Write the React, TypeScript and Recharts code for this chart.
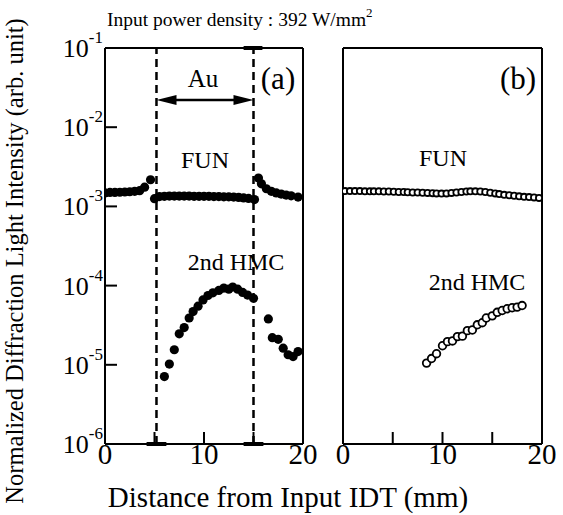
import { ScatterChart, Scatter, XAxis, YAxis, ReferenceLine } from "recharts"

// panel (a): filled symbols
const aFunX = [0, 0.5, 1, 1.5, 2, 2.5, 3, 3.5, 4, 4.6, 5.0, 5.5, 6.0, 6.5, 7.0, 7.5, 8.0, 8.5, 9.0, 9.5, 10.0, 10.5, 11.0, 11.5, 12.0, 12.5, 13.0, 13.5, 14.0, 14.5, 15.1, 15.5, 15.8, 16.3, 16.8, 17.3, 17.8, 18.3, 18.8, 19.5]
const aFunY = [1.48e-3, 1.5e-3, 1.5e-3, 1.51e-3, 1.52e-3, 1.53e-3, 1.55e-3, 1.58e-3, 1.75e-3, 2.17e-3, 1.25e-3, 1.33e-3, 1.34e-3, 1.35e-3, 1.35e-3, 1.35e-3, 1.35e-3, 1.35e-3, 1.34e-3, 1.34e-3, 1.34e-3, 1.34e-3, 1.33e-3, 1.33e-3, 1.32e-3, 1.32e-3, 1.31e-3, 1.3e-3, 1.28e-3, 1.26e-3, 1.22e-3, 2.28e-3, 1.93e-3, 1.67e-3, 1.55e-3, 1.48e-3, 1.43e-3, 1.39e-3, 1.36e-3, 1.31e-3]
const aHmcX = [6.0, 6.5, 7.0, 7.5, 8.0, 8.5, 8.9, 9.4, 9.9, 10.4, 10.9, 11.5, 12.0, 12.5, 12.9, 13.4, 13.9, 14.4, 15.0, 16.5, 16.9, 17.5, 18.0, 18.5, 19.0, 19.5]
const aHmcY = [7.1e-6, 1.02e-5, 1.55e-5, 2.46e-5, 2.95e-5, 3.9e-5, 4.7e-5, 5.5e-5, 6.6e-5, 7.5e-5, 8.1e-5, 8.7e-5, 9.3e-5, 9.0e-5, 9.6e-5, 9.0e-5, 8.2e-5, 7.6e-5, 6.9e-5, 3.8e-5, 2.2e-5, 2.1e-5, 1.62e-5, 1.34e-5, 1.27e-5, 1.47e-5]

// panel (b): open symbols
const bFunX = [0.2, 0.7, 1.2, 1.7, 2.2, 2.7, 3.1, 3.6, 4.1, 4.6, 5.1, 5.6, 6.1, 6.5, 7.0, 7.5, 8.0, 8.5, 9.0, 9.4, 9.9, 10.4, 10.9, 11.4, 11.9, 12.4, 12.8, 13.3, 13.8, 14.3, 14.8, 15.3, 15.7, 16.2, 16.7, 17.2, 17.7, 18.2, 18.7, 19.2, 19.7]
const bFunY = [1.56e-3, 1.56e-3, 1.56e-3, 1.56e-3, 1.55e-3, 1.55e-3, 1.55e-3, 1.55e-3, 1.54e-3, 1.54e-3, 1.53e-3, 1.52e-3, 1.52e-3, 1.51e-3, 1.5e-3, 1.5e-3, 1.49e-3, 1.48e-3, 1.47e-3, 1.46e-3, 1.45e-3, 1.46e-3, 1.48e-3, 1.5e-3, 1.52e-3, 1.54e-3, 1.55e-3, 1.55e-3, 1.54e-3, 1.52e-3, 1.49e-3, 1.46e-3, 1.43e-3, 1.4e-3, 1.38e-3, 1.36e-3, 1.34e-3, 1.32e-3, 1.31e-3, 1.3e-3, 1.28e-3]
const bHmcX = [8.4, 8.9, 9.4, 10.0, 10.5, 11.0, 11.5, 12.0, 12.5, 13.0, 13.5, 14.0, 14.4, 15.0, 15.5, 16.0, 16.5, 17.0, 17.5, 18.0]
const bHmcY = [1.05e-5, 1.2e-5, 1.38e-5, 1.74e-5, 1.96e-5, 2.0e-5, 2.27e-5, 2.3e-5, 2.7e-5, 2.75e-5, 3.2e-5, 3.4e-5, 3.9e-5, 4.15e-5, 4.6e-5, 4.85e-5, 5.1e-5, 5.25e-5, 5.35e-5, 5.6e-5]

const xTicks = [0, 5, 10, 15, 20]
const xTickLabels: Record<number, string> = { 0: "0", 10: "10", 20: "20" }
const yTicks = [1e-6, 1e-5, 1e-4, 1e-3, 1e-2, 1e-1]
const auEdges = [5.2, 15.0]
const auArrowY = 2.2e-2
const yMin = 1e-6
const yMax = 1e-1

const FONT = "Liberation Serif"
const W = 563
const H = 515

const zip = (xs: number[], ys: number[]) => xs.map((x, i) => ({ x, y: ys[i] }))

const PowTick = (props: any) => {
  const { x, y, payload } = props
  const exp = Math.round(Math.log10(payload.value))
  return (
    <text x={x} y={y} textAnchor="end" style={{ fontFamily: FONT }} fontSize={26} fill="#000">
      <tspan dy={9}>10</tspan>
      <tspan fontSize={17} dy={-14}>{exp}</tspan>
    </text>
  )
}

const XTick = (props: any) => {
  const { x, y, payload } = props
  return (
    <text x={x} y={y} textAnchor="middle" style={{ fontFamily: FONT }} fontSize={29} fill="#000" dy={20}>
      {xTickLabels[payload.value] ?? ""}
    </text>
  )
}

const Filled = (p: any) => <circle cx={p.cx} cy={p.cy} r={4.6} fill="#000" />
const OpenSmall = (p: any) => <circle cx={p.cx} cy={p.cy} r={3.1} fill="#fff" stroke="#000" strokeWidth={1.8} />
const OpenBig = (p: any) => <circle cx={p.cx} cy={p.cy} r={3.8} fill="#fff" stroke="#000" strokeWidth={1.8} />

const Arrow = (p: any) => {
  const { x1, y1, x2, y2 } = p
  const a = Math.min(x1, x2)
  const b = Math.max(x1, x2)
  const y = (y1 + y2) / 2
  return (
    <g>
      <line x1={a + 10} y1={y} x2={b - 10} y2={y} stroke="#000" strokeWidth={2.5} />
      <polygon points={`${a},${y} ${a + 20},${y - 5} ${a + 20},${y + 5}`} fill="#000" />
      <polygon points={`${b},${y} ${b - 20},${y - 5} ${b - 20},${y + 5}`} fill="#000" />
    </g>
  )
}

function Frame(props: { withLabels: boolean }) {
  const axisLine = { stroke: "#000", strokeWidth: 2 }
  return [
    <XAxis
      key="xb"
      xAxisId="b"
      dataKey="x"
      type="number"
      domain={[0, 20]}
      ticks={xTicks}
      tickSize={-12}
      tickMargin={12}
      height={30}
      axisLine={axisLine}
      tickLine={axisLine}
      tick={<XTick />}
      interval={0}
      allowDataOverflow
    />,
    <XAxis
      key="xt"
      xAxisId="t"
      orientation="top"
      type="number"
      domain={[0, 20]}
      ticks={xTicks}
      tickSize={-12}
      height={1}
      axisLine={axisLine}
      tickLine={axisLine}
      tick={false}
    />,
    <YAxis
      key="yl"
      yAxisId="l"
      dataKey="y"
      type="number"
      scale="log"
      domain={[yMin, yMax]}
      ticks={yTicks}
      tickSize={-12}
      tickMargin={14}
      width={props.withLabels ? 60 : 1}
      axisLine={axisLine}
      tickLine={axisLine}
      tick={props.withLabels ? <PowTick /> : false}
      interval={0}
      allowDataOverflow
    />,
    <YAxis
      key="yr"
      yAxisId="r"
      orientation="right"
      type="number"
      scale="log"
      domain={[yMin, yMax]}
      ticks={yTicks}
      tickSize={-12}
      width={1}
      axisLine={axisLine}
      tickLine={axisLine}
      tick={false}
    />,
  ]
}

export default function App() {
  const aFun = zip(aFunX, aFunY)
  const aHmc = zip(aHmcX, aHmcY)
  const bFun = zip(bFunX, bFunY)
  const bHmc = zip(bHmcX, bHmcY)

  return (
    <div style={{ position: "absolute", left: 0, top: 0, width: W, height: H, background: "#fff", fontFamily: FONT }}>
      {/* panel (a) */}
      <div style={{ position: "absolute", left: 0, top: 0 }}>
        <ScatterChart width={320} height={H} margin={{ top: 47, right: 16, bottom: 41, left: 45 }}>
          {Frame({ withLabels: true })}
          {auEdges.map((x) => (
            <ReferenceLine key={x} x={x} xAxisId="b" yAxisId="l" stroke="#000" strokeWidth={2.5} strokeDasharray="8 5" />
          ))}
          {auEdges.map((x) => (
            <ReferenceLine
              key={`bot${x}`}
              xAxisId="b"
              yAxisId="l"
              segment={[{ x: x - 1, y: yMin }, { x: x + 1, y: yMin }]}
              stroke="#000"
              strokeWidth={4}
            />
          ))}
          <ReferenceLine
            xAxisId="b"
            yAxisId="l"
            segment={[{ x: auEdges[1] - 1, y: yMax }, { x: auEdges[1] + 0.9, y: yMax }]}
            stroke="#000"
            strokeWidth={4}
          />
          <ReferenceLine
            xAxisId="b"
            yAxisId="l"
            segment={[{ x: auEdges[0], y: auArrowY }, { x: auEdges[1], y: auArrowY }]}
            shape={<Arrow />}
          />
          <Scatter data={aFun} xAxisId="b" yAxisId="l" shape={<Filled />} isAnimationActive={false} />
          <Scatter data={aHmc} xAxisId="b" yAxisId="l" shape={<Filled />} isAnimationActive={false} />
        </ScatterChart>
      </div>

      {/* panel (b) */}
      <div style={{ position: "absolute", left: 320, top: 0 }}>
        <ScatterChart width={243} height={H} margin={{ top: 47, right: 20, bottom: 41, left: 22 }}>
          {Frame({ withLabels: false })}
          <Scatter data={bFun} xAxisId="b" yAxisId="l" shape={<OpenSmall />} isAnimationActive={false} />
          <Scatter data={bHmc} xAxisId="b" yAxisId="l" shape={<OpenBig />} isAnimationActive={false} />
        </ScatterChart>
      </div>

      {/* annotations */}
      <svg width={W} height={H} style={{ position: "absolute", left: 0, top: 0, pointerEvents: "none", fontFamily: FONT }}>
        <g fill="#000">
          <text x={107} y={26} fontSize={19.5}>
            Input power density : 392 W/mm<tspan fontSize={13} dy={-9}>2</tspan>
          </text>
          <text x={203} y={87} fontSize={25} textAnchor="middle">Au</text>
          <text x={278} y={89} fontSize={31} textAnchor="middle">(a)</text>
          <text x={518} y={89} fontSize={31} textAnchor="middle">(b)</text>
          <text x={205} y={168} fontSize={24} textAnchor="middle">FUN</text>
          <text x={236} y={270} fontSize={24} textAnchor="middle">2nd HMC</text>
          <text x={443} y={166} fontSize={24} textAnchor="middle">FUN</text>
          <text x={477} y={290} fontSize={24} textAnchor="middle">2nd HMC</text>
          <text x={288} y={507} fontSize={29} textAnchor="middle">Distance from Input IDT (mm)</text>
          <text x={0} y={0} fontSize={24.5} textAnchor="middle" transform="translate(23 261) rotate(-90)">
            Normalized Diffraction Light Intensity (arb. unit)
          </text>
        </g>
      </svg>
    </div>
  )
}
